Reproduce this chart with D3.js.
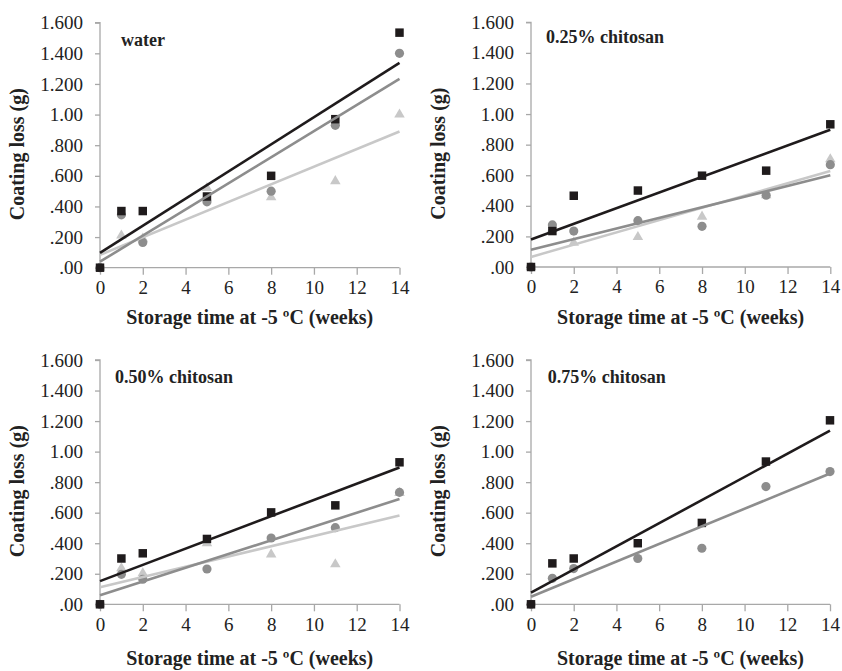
<!DOCTYPE html>
<html>
<head>
<meta charset="utf-8">
<script src="https://cdn.jsdelivr.net/npm/d3@7"></script>
</head>
<body style="margin:0; background:#fff">
<svg width="842" height="671"></svg>
<script>
var weeks = [0, 1, 2, 5, 8, 11, 14];
var panelTitles = ["water", "0.25% chitosan", "0.50% chitosan", "0.75% chitosan"];

// coating loss (g) per panel
var squareSeries = [
  [0, 0.37, 0.37, 0.465, 0.60, 0.97, 1.535],
  [0, 0.235, 0.466, 0.50, 0.597, 0.63, 0.933],
  [0, 0.30, 0.334, 0.428, 0.602, 0.648, 0.93],
  [0, 0.268, 0.30, 0.40, 0.533, 0.935, 1.205]
];
var circleSeries = [
  [0, 0.345, 0.165, 0.43, 0.50, 0.93, 1.40],
  [0, 0.275, 0.235, 0.303, 0.266, 0.469, 0.669],
  [0, 0.196, 0.164, 0.231, 0.434, 0.502, 0.733],
  [0, 0.17, 0.234, 0.30, 0.367, 0.771, 0.869]
];
var triangleSeries = [
  [0, 0.21, 0.19, 0.52, 0.46, 0.565, 1.00],
  [0, 0.25, 0.159, 0.196, 0.329, 0.47, 0.704],
  [0, 0.236, 0.203, 0.40, 0.327, 0.262, 0.73],
  null
];

var yTicks = [0, 0.2, 0.4, 0.6, 0.8, 1.0, 1.2, 1.4, 1.6];
var yTickLabels = [".00", ".200", ".400", ".600", ".800", "1.00", "1.200", "1.400", "1.600"];
var xTicks = [0, 2, 4, 6, 8, 10, 12, 14];

var xTitle = "Storage time at -5 ºC (weeks)";
var yTitle = "Coating loss (g)";

// panel layout
var panels = [
  {left: 100, top: 22.7, w: 299.5, h: 245, titleDx: 21, titleDy: 23.3, yTitleX: 24, xTitleDy: 56},
  {left: 531, top: 22.3, w: 299.3, h: 244.7, titleDx: 15, titleDy: 21, yTitleX: 445, xTitleDy: 57},
  {left: 100, top: 360, w: 299.5, h: 244.3, titleDx: 15, titleDy: 22.7, yTitleX: 24, xTitleDy: 61},
  {left: 531, top: 360, w: 299, h: 244.3, titleDx: 16.7, titleDy: 22.7, yTitleX: 445, xTitleDy: 61}
];

var font = "Liberation Serif";
var cSquare = "#1f1b1c", cCircle = "#8d8d8d", cTriangle = "#c8c8c8";
var axisColor = "#a8a8a8";

function fit(ys) {
  var n = weeks.length, mx = d3.mean(weeks), my = d3.mean(ys);
  var sxy = 0, sxx = 0;
  for (var i = 0; i < n; i++) {
    sxy += (weeks[i] - mx) * (ys[i] - my);
    sxx += (weeks[i] - mx) * (weeks[i] - mx);
  }
  var b = sxy / sxx;
  return {a: my - b * mx, b: b};
}

var svg = d3.select("svg");

panels.forEach(function(p, i) {
  var x = d3.scaleLinear().domain([0, 14]).range([p.left, p.left + p.w]);
  var y = d3.scaleLinear().domain([0, 1.6]).range([p.top + p.h, p.top]);
  var g = svg.append("g");

  // y axis
  var ya = g.append("g")
      .attr("transform", "translate(" + p.left + ",0)")
      .call(d3.axisLeft(y).tickValues(yTicks).tickSize(5).tickPadding(12)
        .tickFormat(function(d, j) { return yTickLabels[j]; }))
      .attr("font-family", font).attr("font-size", 19);
  ya.select(".domain").attr("stroke", axisColor).attr("stroke-width", 1.3)
      .attr("d", "M-5," + y(1.6) + "H0V" + y(0));
  ya.selectAll(".tick line").attr("stroke", axisColor).attr("stroke-width", 1.3);
  ya.selectAll(".tick text").attr("fill", "#222").attr("font-family", font);

  // x axis
  var xa = g.append("g")
      .attr("transform", "translate(0," + (p.top + p.h) + ")")
      .call(d3.axisBottom(x).tickValues(xTicks).tickSize(7).tickPadding(6))
      .attr("font-family", font).attr("font-size", 19);
  xa.select(".domain").attr("stroke", axisColor).attr("stroke-width", 1.3)
      .attr("d", "M" + x(0) + ",0H" + x(14));
  xa.selectAll(".tick line").attr("stroke", axisColor).attr("stroke-width", 1.3);
  xa.selectAll(".tick text").attr("fill", "#222").attr("font-family", font);

  // titles
  g.append("text")
      .attr("x", p.left + p.titleDx)
      .attr("y", p.top + p.titleDy)
      .attr("font-family", font)
      .attr("font-weight", "bold")
      .attr("font-size", 18)
      .attr("fill", "#222")
      .text(panelTitles[i]);

  g.append("text")
      .attr("x", p.left + p.w / 2)
      .attr("y", p.top + p.h + p.xTitleDy)
      .attr("text-anchor", "middle")
      .attr("font-family", font)
      .attr("font-weight", "bold")
      .attr("font-size", 20)
      .attr("fill", "#222")
      .text(xTitle);

  g.append("text")
      .attr("transform", "translate(" + p.yTitleX + "," + (p.top + p.h / 2 + 9) + ") rotate(-90)")
      .attr("text-anchor", "middle")
      .attr("font-family", font)
      .attr("font-weight", "bold")
      .attr("font-size", 20)
      .attr("fill", "#222")
      .text(yTitle);

  // markers
  var series = [
    {vals: triangleSeries[i], color: cTriangle, sym: d3.symbolTriangle, size: 48},
    {vals: circleSeries[i], color: cCircle, sym: d3.symbolCircle, size: 66},
    {vals: squareSeries[i], color: cSquare, sym: d3.symbolSquare, size: 72}
  ].filter(function(s) { return s.vals; });

  series.forEach(function(s) {
    g.append("g").selectAll("path")
      .data(s.vals)
      .enter().append("path")
        .attr("transform", function(d, j) { return "translate(" + x(weeks[j]) + "," + y(d) + ")"; })
        .attr("d", d3.symbol().type(s.sym).size(s.size))
        .attr("fill", s.color);
  });

  // trend lines
  series.forEach(function(s) {
    var f = fit(s.vals);
    g.append("line")
        .attr("x1", x(0)).attr("y1", y(f.a))
        .attr("x2", x(14)).attr("y2", y(f.a + f.b * 14))
        .attr("stroke", s.color)
        .attr("stroke-width", 2.6);
  });
});
</script>
</body>
</html>
